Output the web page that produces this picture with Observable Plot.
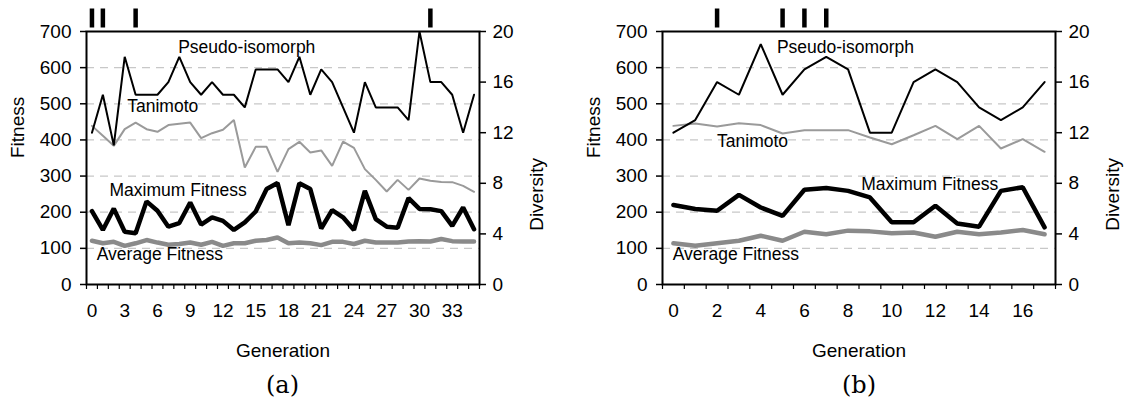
<!DOCTYPE html>
<html><head><meta charset="utf-8">
<script src="https://cdn.jsdelivr.net/npm/d3@7"></script>
<script src="https://cdn.jsdelivr.net/npm/@observablehq/plot@0.6"></script>
<style>
body{margin:0;background:#fff;font-family:"Liberation Sans",Arial,sans-serif;}
#wrap{position:relative;width:1124px;height:405px;overflow:hidden;}
.panel{position:absolute;top:0;}
.cap{position:absolute;top:369px;width:120px;text-align:center;font-family:"DejaVu Serif","Liberation Serif",serif;font-size:24px;line-height:32px;}
</style></head><body><div id="wrap"></div>
<script>
// ---------- data ----------
const genA = [0,1,2,3,4,5,6,7,8,9,10,11,12,13,14,15,16,17,18,19,20,21,22,23,24,25,26,27,28,29,30,31,32,33,34,35];
const pseudoA = [12,15,11,18,15,15,15,16,18,16,15,16,15,15,14,17,17,17,16,18,15,17,16,14,12,16,14,14,14,13,20,16,16,15,12,15];
const tanimotoA = [12.54,11.75,10.96,12.28,12.8,12.28,12.07,12.6,12.7,12.8,11.57,11.96,12.23,13.0,9.25,10.88,10.88,8.9,10.7,11.28,10.43,10.6,9.38,11.3,10.8,9.12,8.27,7.35,8.27,7.48,8.38,8.2,8.1,8.09,7.8,7.33];
const maxA = [203,151,210,146,142,230,204,160,170,227,166,186,176,151,172,202,264,281,164,280,264,155,206,186,151,259,181,160,157,239,209,208,203,162,213,153];
const avgA = [121,114,118,107,114,123,116,110,112,116,110,118,107,114,114,121,123,130,114,116,114,109,118,118,112,121,116,116,116,119,120,119,126,120,119,119];
const eventsA = [0,1,4,31];
const xTicksA = [0,3,6,9,12,15,18,21,24,27,30,33];

const genB = [0,1,2,3,4,5,6,7,8,9,10,11,12,13,14,15,16,17];
const pseudoB = [12,13,16,15,19,15,17,18,17,12,12,16,17,16,14,13,14,16];
const tanimotoB = [12.54,12.73,12.49,12.75,12.6,11.94,12.2,12.2,12.2,11.62,11.09,11.8,12.54,11.49,12.54,10.75,11.49,10.49];
const maxB = [220,209,204,248,213,190,262,267,259,241,172,172,218,169,160,259,269,158];
const avgB = [114,107,114,121,135,121,146,139,149,147,142,144,132,146,139,144,151,139];
const eventsB = [2,5,6,7];
const xTicksB = [0,2,4,6,8,10,12,14,16];

const fitnessTicks = [0,100,200,300,400,500,600,700];
const diversityTicks = [0,4,8,12,16,20];
const gridLines = [100,200,300,400,500,600];
const seriesNames = ["Pseudo-isomorph","Tanimoto","Maximum Fitness","Average Fitness"];
// label anchor positions (generation, fitness units) per panel
const labelPosA = [[7.9,656],[3.23,493],[1.61,260],[0.44,84]];
const labelPosB = [[4.74,656],[2.0,395],[8.6,277],[-0.03,84]];

const FIT_PER_DIV = 700 / 20;
const barSymbol = {draw(ctx){ ctx.rect(-2.25,-9.5,4.5,19); }};

function panel({gens, pseudo, tanimoto, maxF, avgF, events, xTicks, width, labelPos}) {
  const n = gens.length;
  const rows = gens.map((g,i)=>({g, pseudo: pseudo[i]*FIT_PER_DIV, tanimoto: tanimoto[i]*FIT_PER_DIV, max: maxF[i], avg: avgF[i]}));
  const bounds = d3.range(-0.5, n, 1);
  const labels = seriesNames.map((s,i)=>({text:s, g:labelPos[i][0], y:labelPos[i][1]}));
  const marginRight = width - 86 - 393;
  return Plot.plot({
    width, height: 370,
    marginTop: 31, marginBottom: 86, marginLeft: 86, marginRight,
    style: {fontSize: "19px", fontFamily: "'Liberation Sans', Arial, sans-serif", color: "black", background: "white", overflow: "visible"},
    x: {type: "linear", domain: [-0.5, n - 0.5], axis: null},
    y: {domain: [0, 700], axis: null},
    marks: [
      Plot.ruleY(gridLines, {stroke: "#c8c8c8", strokeWidth: 1.3, strokeDasharray: "8,6"}),
      Plot.line(rows, {x: "g", y: "tanimoto", stroke: "#9a9a9a", strokeWidth: 2, strokeLinejoin: "miter"}),
      Plot.line(rows, {x: "g", y: "pseudo", stroke: "black", strokeWidth: 2, strokeLinejoin: "miter"}),
      Plot.line(rows, {x: "g", y: "avg", stroke: "#8a8a8a", strokeWidth: 4.5, strokeLinejoin: "miter"}),
      Plot.line(rows, {x: "g", y: "max", stroke: "black", strokeWidth: 4.5, strokeLinejoin: "miter"}),
      Plot.text(labels, {x: "g", y: "y", text: "text", textAnchor: "start", fill: "black", fontSize: 17.5}),
      Plot.frame({stroke: "black", strokeWidth: 2}),
      Plot.axisY(fitnessTicks, {anchor: "left", tickSize: 6, tickPadding: 9, label: null, strokeWidth: 1.5}),
      Plot.axisY(diversityTicks.map(d=>d*FIT_PER_DIV), {anchor: "right", tickSize: 6, tickPadding: 7, label: null, tickFormat: d => d / FIT_PER_DIV, strokeWidth: 1.5}),
      Plot.axisX(bounds, {anchor: "bottom", tickSize: 5, tickFormat: () => "", label: null, strokeWidth: 1.2}),
      Plot.axisX(xTicks, {anchor: "bottom", tickSize: 0, tickPadding: 19, label: null}),
      Plot.text(["Fitness"], {frameAnchor: "left", rotate: -90, dx: -69, lineAnchor: "middle"}),
      Plot.text(["Diversity"], {frameAnchor: "right", rotate: -90, dx: 57, lineAnchor: "middle"}),
      Plot.text(["Generation"], {frameAnchor: "bottom", dy: 66, lineAnchor: "middle"}),
      Plot.dot(events, {x: d => d, frameAnchor: "top", dy: -13.5, symbol: barSymbol, fill: "black", stroke: null})
    ]
  });
}

const wrap = document.getElementById("wrap");
function place(node, left) { const d = document.createElement("div"); d.className = "panel"; d.style.left = left + "px"; d.appendChild(node); wrap.appendChild(d); }
place(panel({gens: genA, pseudo: pseudoA, tanimoto: tanimotoA, maxF: maxA, avgF: avgA, events: eventsA, xTicks: xTicksA, width: 562, labelPos: labelPosA}), 0);
place(panel({gens: genB, pseudo: pseudoB, tanimoto: tanimotoB, maxF: maxB, avgF: avgB, events: eventsB, xTicks: xTicksB, width: 548, labelPos: labelPosB}), 576);
function cap(text, cx) { const d = document.createElement("div"); d.className = "cap"; d.style.left = (cx - 60) + "px"; d.textContent = text; wrap.appendChild(d); }
cap("(a)", 282.5);
cap("(b)", 859);
</script></body></html>
